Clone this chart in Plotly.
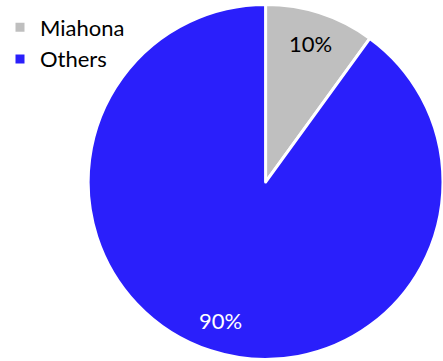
import math
import plotly.graph_objects as go

# Share of the total held by each party
labels = ["Miahona", "Others"]
values = [10, 90]
colors = ["#BFBFBF", "#2A1FFB"]
label_colors = ["#000000", "#FFFFFF"]

FONT = "Lato, Open Sans, sans-serif"
W, H = 443, 361
dom_x = [0.199, 1.0]
dom_y = [0.0028, 0.9888]

fig = go.Figure(
    go.Pie(
        labels=labels,
        values=values,
        sort=False,
        direction="clockwise",
        rotation=0,
        marker=dict(colors=colors, line=dict(color="white", width=3)),
        textinfo="none",
        hoverinfo="label+percent",
        domain=dict(x=dom_x, y=dom_y),
    )
)

# Percentage labels placed along each slice's mid-angle, ~82% of the radius out
cx = (dom_x[0] + dom_x[1]) / 2
cy = (dom_y[0] + dom_y[1]) / 2
radius_px = min((dom_x[1] - dom_x[0]) * W, (dom_y[1] - dom_y[0]) * H) / 2
total = sum(values)
start = 0.0
for v, c in zip(values, label_colors):
    mid = math.radians((start + v / 2) / total * 360)
    r = 0.82 * radius_px
    fig.add_annotation(
        x=cx + r * math.sin(mid) / W,
        y=cy + r * math.cos(mid) / H,
        xref="paper",
        yref="paper",
        xanchor="center",
        yanchor="middle",
        text=f"{v / total * 100:.0f}%",
        showarrow=False,
        font=dict(family=FONT, size=22, color=c),
    )
    start += v

fig.update_layout(
    width=W,
    height=H,
    margin=dict(l=0, r=0, t=0, b=0, autoexpand=False),
    paper_bgcolor="white",
    showlegend=True,
    legend=dict(
        x=0.0,
        y=0.982,
        xanchor="left",
        yanchor="top",
        font=dict(family=FONT, size=22, color="black"),
        itemwidth=30,
        tracegroupgap=0,
        bgcolor="rgba(0,0,0,0)",
    ),
)

fig.write_html("out.html")
